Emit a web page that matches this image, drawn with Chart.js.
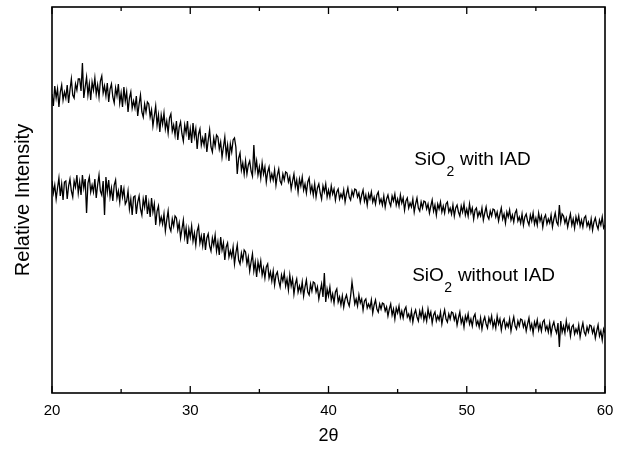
<!DOCTYPE html>
<html>
<head>
<meta charset="utf-8">
<script src="https://cdn.jsdelivr.net/npm/chart.js@4/dist/chart.umd.min.js"></script>
<style>
  html, body { margin: 0; padding: 0; background: #fff; }
  #wrap { width: 623px; height: 450px; }
</style>
</head>
<body>
<div id="wrap"><canvas id="xrdChart" width="623" height="450"></canvas></div>
<script>
"use strict";

// Scan grid (2theta), one reading every 0.1 degree
var scanStart = 20;
var scanStep = 0.1;

// Tick marks on the 2theta axis
var majorTicks = [20, 30, 40, 50, 60];
var minorTicks = [25, 35, 45, 55];

// Series names
var seriesNames = ["SiO2 with IAD", "SiO2 without IAD"];

// Relative intensity (arbitrary units), one row per degree
var withIAD = [
    299, 287, 307, 295, 304, 286, 301, 308, 293, 301,
    295, 308, 290, 303, 314, 298, 295, 309, 303, 314,
    314, 302, 330, 295, 306, 316, 298, 309, 293, 311,
    303, 315, 299, 308, 296, 312, 317, 300, 307, 297,
    310, 291, 304, 309, 296, 290, 305, 297, 309, 290,
    300, 286, 306, 292, 301, 281, 295, 301, 285, 292,
    285, 297, 277, 289, 298, 281, 276, 289, 281, 291,
    289, 276, 283, 267, 277, 287, 268, 278, 261, 278,
    269, 280, 264, 272, 260, 275, 279, 262, 268, 258,
    272, 253, 266, 271, 259, 252, 268, 260, 272, 253,
    264, 250, 270, 256, 264, 244, 259, 264, 248, 255,
    248, 260, 241, 253, 263, 246, 241, 255, 247, 258,
    256, 244, 251, 236, 246, 256, 238, 248, 232, 249,
    241, 253, 255, 246, 219, 235, 240, 223, 230, 219,
    232, 219, 228, 232, 222, 217, 248, 223, 232, 218,
    226, 215, 230, 219, 226, 211, 221, 226, 213, 219,
    213, 223, 208, 218, 224, 212, 209, 219, 213, 221,
    220, 211, 216, 204, 212, 219, 206, 213, 201, 214,
    207, 216, 203, 209, 200, 211, 215, 201, 207, 198,
    209, 196, 205, 209, 200, 194, 207, 201, 209, 196,
    203, 196, 207, 199, 204, 193, 201, 204, 194, 199,
    195, 203, 191, 199, 205, 196, 193, 202, 197, 204,
    203, 196, 200, 191, 198, 203, 192, 198, 188, 199,
    194, 201, 191, 196, 189, 198, 201, 190, 194, 188,
    197, 186, 194, 198, 191, 187, 197, 192, 199, 188,
    194, 187, 198, 190, 195, 183, 192, 195, 185, 190,
    186, 194, 181, 189, 195, 185, 182, 191, 185, 192,
    191, 184, 189, 180, 187, 193, 182, 188, 178, 189,
    184, 191, 181, 187, 180, 189, 191, 181, 185, 179,
    188, 177, 185, 188, 181, 177, 187, 181, 189, 178,
    184, 177, 189, 180, 185, 174, 183, 185, 176, 181,
    177, 185, 173, 180, 186, 177, 174, 182, 177, 184,
    183, 176, 181, 172, 179, 185, 174, 179, 170, 181,
    176, 183, 173, 178, 171, 180, 183, 172, 176, 170,
    179, 168, 176, 179, 172, 168, 178, 172, 180, 169,
    175, 168, 180, 172, 177, 166, 175, 178, 169, 174,
    170, 178, 166, 174, 180, 171, 168, 188, 171, 179,
    177, 170, 175, 166, 173, 179, 168, 174, 165, 176,
    170, 177, 167, 173, 166, 175, 177, 167, 171, 165,
    174, 163, 171, 175, 168, 164, 173, 168, 176, 165,
    168
];

var withoutIAD = [
    212, 200, 208, 194, 205, 215, 197, 209, 193, 211,
    212, 194, 207, 214, 202, 196, 212, 206, 218, 200,
    211, 198, 218, 205, 214, 180, 210, 216, 201, 208,
    201, 214, 195, 208, 218, 202, 198, 212, 178, 216,
    201, 213, 196, 205, 192, 208, 213, 195, 202, 191,
    208, 196, 204, 189, 192, 202, 184, 194, 178, 196,
    197, 179, 191, 197, 184, 178, 194, 186, 198, 179,
    190, 176, 195, 181, 189, 168, 182, 187, 170, 176,
    169, 179, 162, 173, 182, 166, 162, 174, 167, 177,
    175, 163, 170, 155, 164, 173, 156, 165, 149, 164,
    156, 167, 152, 160, 148, 162, 167, 150, 157, 147,
    160, 143, 155, 159, 147, 142, 155, 148, 158, 142,
    151, 138, 156, 143, 150, 133, 146, 150, 136, 142,
    136, 146, 129, 140, 148, 133, 129, 140, 133, 143,
    141, 129, 136, 122, 131, 139, 122, 131, 116, 131,
    123, 132, 118, 125, 115, 126, 129, 115, 121, 112,
    122, 108, 118, 121, 112, 106, 118, 112, 120, 107,
    114, 103, 118, 107, 114,  99, 109, 114, 101, 107,
    101, 111,  97, 106, 113, 101,  98, 109, 102, 111,
    110, 101, 106,  94, 102, 109,  96, 120,  91, 104,
     97, 106,  93,  99,  90, 101, 104,  91,  96,  88,
     97,  86,  94,  98,  91,  87,  97, 111, 100,  89,
     94,  87,  98,  90,  94,  83,  92,  94,  85,  89,
     85,  93,  80,  88,  93,  84,  81,  89,  84,  90,
     89,  82,  86,  77,  84,  89,  78,  84,  74,  85,
     80,  87,  76,  82,  75,  83,  86,  76,  79,  73,
     82,  71,  79,  83,  76,  72,  82,  76,  84,  73,
     79,  72,  84,  76,  81,  70,  78,  81,  72,  77,
     73,  81,  69,  77,  83,  74,  71,  79,  74,  81,
     80,  73,  78,  68,  75,  81,  70,  75,  66,  77,
     72,  79,  69,  74,  67,  76,  79,  68,  72,  66,
     75,  64,  72,  76,  69,  65,  75,  70,  77,  66,
     72,  65,  77,  69,  74,  63,  71,  74,  65,  70,
     66,  74,  62,  70,  76,  67,  64,  72,  67,  74,
     73,  66,  71,  62,  69,  75,  64,  69,  60,  71,
     66,  73,  63,  69,  62,  71,  73,  63,  67,  61,
     70,  59,  67,  71,  64,  60,  70,  46,  72,  61,
     67,  60,  72,  63,  68,  57,  66,  68,  59,  64,
     60,  68,  56,  64,  70,  61,  58,  66,  61,  68,
     67,  60,  65,  55,  62,  68,  57,  62,  53,  64,
     60
];

// Pairs each reading with its 2theta position
function toPoints(values) {
    var pts = [];
    for (var i = 0; i < values.length; i++) {
        pts.push({ x: +(scanStart + i * scanStep).toFixed(1), y: values[i] });
    }
    return pts;
}

// Frame, inward ticks and the curve labels
var annotate = {
    id: "annotate",
    afterDraw: function(chart) {
        var ctx = chart.ctx;
        var a = chart.chartArea;
        var xs = chart.scales.x;
        var ys = chart.scales.y;
        ctx.save();
        ctx.strokeStyle = "#000";
        ctx.lineWidth = 1.6;
        ctx.strokeRect(a.left, a.top, a.right - a.left, a.bottom - a.top);

        ctx.lineWidth = 1.3;
        function tick(v, len) {
            var px = xs.getPixelForValue(v);
            ctx.beginPath();
            ctx.moveTo(px, a.bottom); ctx.lineTo(px, a.bottom - len);
            ctx.moveTo(px, a.top); ctx.lineTo(px, a.top + len);
            ctx.stroke();
        }
        majorTicks.forEach(function(v) { tick(v, 7); });
        minorTicks.forEach(function(v) { tick(v, 4); });

        // curve labels with subscript 2
        function label(xv, yv, rest) {
            var x = xs.getPixelForValue(xv);
            var y = ys.getPixelForValue(yv);
            ctx.fillStyle = "#000";
            ctx.textBaseline = "middle";
            ctx.textAlign = "left";
            ctx.font = "19px 'Liberation Sans', Arial, sans-serif";
            ctx.fillText("SiO", x, y);
            x += ctx.measureText("SiO").width;
            ctx.font = "14px 'Liberation Sans', Arial, sans-serif";
            ctx.fillText("2", x + 0.5, y + 12);
            x += ctx.measureText("2").width + 1;
            ctx.font = "19px 'Liberation Sans', Arial, sans-serif";
            ctx.fillText(rest, x, y);
        }
        label(46.2, 233, " with IAD");
        label(46.05, 117, " without IAD");
        ctx.restore();
    }
};

function drawChart() {
    var ctx = document.getElementById("xrdChart");
    new Chart(ctx, {
        "type": "line",
        "data": {
            "datasets": [{
                "label": seriesNames[0],
                "data": toPoints(withIAD),
                "borderColor": "#000",
                "borderWidth": 1.3,
                "pointRadius": 0,
                "tension": 0
            }, {
                "label": seriesNames[1],
                "data": toPoints(withoutIAD),
                "borderColor": "#000",
                "borderWidth": 1.3,
                "pointRadius": 0,
                "tension": 0
            }]
        },
        "options": {
            "responsive": false,
            "animation": false,
            "layout": { "padding": { "top": 7, "right": 18, "left": 0, "bottom": 0 } },
            "plugins": { "legend": { "display": false }, "tooltip": { "enabled": false } },
            "scales": {
                "x": {
                    "type": "linear",
                    "min": 20,
                    "max": 60,
                    "afterBuildTicks": function(s) {
                        s.ticks = majorTicks.map(function(v) { return { value: v }; });
                    },
                    "afterFit": function(s) { s.height = 57; },
                    "grid": { "display": false, "drawTicks": false },
                    "border": { "display": false },
                    "ticks": {
                        "color": "#000",
                        "padding": 9,
                        "maxRotation": 0,
                        "font": { "family": "'Liberation Sans', Arial, sans-serif", "size": 15 }
                    },
                    "title": {
                        "display": true,
                        "text": "2θ",
                        "color": "#000",
                        "padding": { "top": 0, "bottom": 3 },
                        "font": { "family": "'Liberation Sans', Arial, sans-serif", "size": 18 }
                    }
                },
                "y": {
                    "min": 0,
                    "max": 386,
                    "afterFit": function(s) { s.width = 52; },
                    "grid": { "display": false, "drawTicks": false },
                    "border": { "display": false },
                    "ticks": { "display": false },
                    "title": {
                        "display": true,
                        "text": "Relative Intensity",
                        "color": "#000",
                        "padding": { "top": 11, "bottom": 0 },
                        "font": { "family": "'Liberation Sans', Arial, sans-serif", "size": 20 }
                    }
                }
            }
        },
        "plugins": [annotate]
    });
}

window.onload = drawChart;
</script>
</body>
</html>
